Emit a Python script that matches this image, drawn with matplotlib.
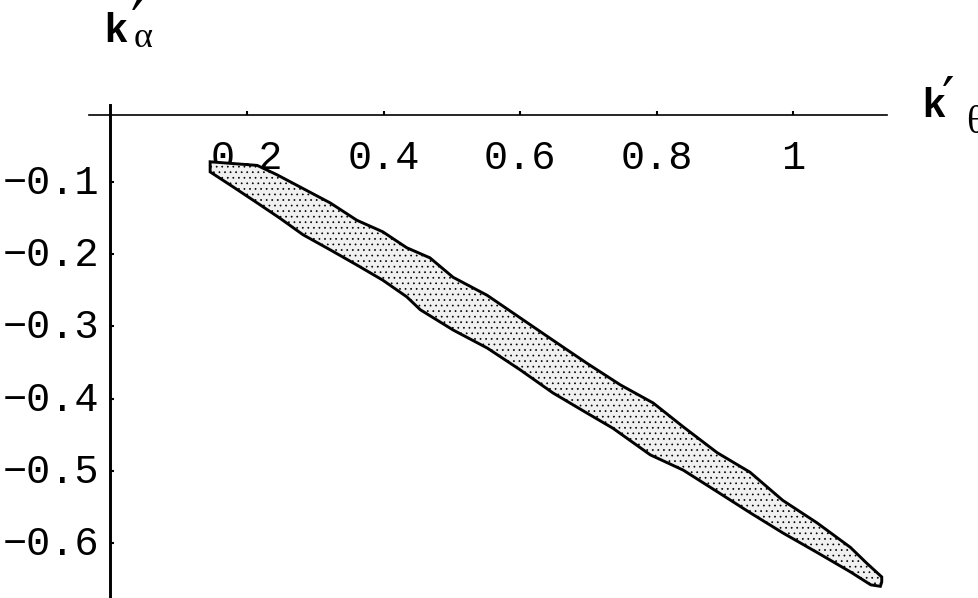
import numpy as np
import matplotlib.pyplot as plt
import matplotlib.transforms as mtransforms
from matplotlib.patches import Polygon

# boundary of the shaded region
upper_x = [0.146, 0.215, 0.244, 0.278, 0.322, 0.361, 0.399, 0.434, 0.468, 0.502, 0.552,
           0.600, 0.648, 0.698, 0.747, 0.795, 0.839, 0.889, 0.937, 0.985, 1.035, 1.084,
           1.108, 1.130, 1.130]
upper_y = [-0.072, -0.077, -0.090, -0.107, -0.129, -0.153, -0.169, -0.191, -0.205, -0.232,
           -0.257, -0.288, -0.319, -0.351, -0.381, -0.406, -0.439, -0.475, -0.502, -0.541,
           -0.572, -0.606, -0.628, -0.647, -0.654]
lower_x = [1.128, 1.114, 1.084, 1.035, 0.985, 0.937, 0.889, 0.839, 0.791, 0.736, 0.698,
           0.648, 0.600, 0.552, 0.502, 0.454, 0.434, 0.399, 0.361, 0.322, 0.282, 0.248,
           0.215, 0.180, 0.146]
lower_y = [-0.660, -0.658, -0.640, -0.613, -0.586, -0.558, -0.529, -0.499, -0.478, -0.441,
           -0.420, -0.392, -0.360, -0.330, -0.305, -0.277, -0.259, -0.236, -0.215, -0.194,
           -0.173, -0.150, -0.129, -0.107, -0.086]

xticks = [0.2, 0.4, 0.6, 0.8, 1.0]
xticklabels = ['0.2', '0.4', '0.6', '0.8', '1']
yticks = [-0.1, -0.2, -0.3, -0.4, -0.5, -0.6]
yticklabels = ['\u22120.1', '\u22120.2', '\u22120.3', '\u22120.4', '\u22120.5', '\u22120.6']

plt.rcParams['hatch.color'] = '#333333'
plt.rcParams['hatch.linewidth'] = 0.5

fig = plt.figure(figsize=(9.79, 5.98), dpi=100)
ax = fig.add_axes([0, 0, 1, 1])
ax.set_xlim(-0.1619, 1.2725)
ax.set_ylim(-0.6762, 0.1521)
ax.patch.set_visible(False)

pts = np.column_stack([upper_x + lower_x, upper_y + lower_y])
poly = Polygon(pts, closed=True, facecolor='#f0f0f0', edgecolor='black',
               linewidth=2.1, hatch='...', zorder=3)
ax.add_patch(poly)

for s in ['top', 'right']:
    ax.spines[s].set_visible(False)
ax.spines['left'].set_position(('data', 0))
ax.spines['bottom'].set_position(('data', -0.0072))
ax.spines['left'].set_bounds(-0.6762, 0.0066)
ax.spines['bottom'].set_bounds(-0.0315, 1.138)
ax.spines['left'].set_linewidth(2.1)
ax.spines['bottom'].set_linewidth(1.2)

ax.set_xticks(xticks)
ax.set_xticklabels(xticklabels)
ax.set_yticks(yticks)
ax.set_yticklabels(yticklabels)
ax.tick_params(axis='both', direction='in', length=3, width=1.5, labelsize=29)
ax.tick_params(axis='x', pad=17)
ax.tick_params(axis='y', pad=8)
shift = mtransforms.ScaledTranslation(0, 3 / 100, fig.dpi_scale_trans)
for lab in ax.get_xticklabels() + ax.get_yticklabels():
    lab.set_family('Liberation Mono')
for lab in ax.get_yticklabels():
    lab.set_transform(lab.get_transform() + shift)

W, H = 979., 598.
def px(x, y):
    return x / W, 1 - y / H

# axis labels
fig.text(*px(104, 42), 'k', fontsize=29, fontweight='bold', family='Liberation Sans',
         ha='left', va='baseline')
fig.text(*px(131, 40), '\u2032', fontsize=40, family='DejaVu Sans', ha='left', va='baseline')
fig.text(*px(134, 47), '\u03b1', fontsize=26, family='Liberation Serif', ha='left', va='baseline')

fig.text(*px(922, 117), 'k', fontsize=29, fontweight='bold', family='Liberation Sans',
         ha='left', va='baseline')
fig.text(*px(942, 116), '\u2032', fontsize=40, family='DejaVu Sans', ha='left', va='baseline')
fig.text(*px(966, 133), '\u03b8', fontsize=28, family='Liberation Serif', ha='left', va='baseline')

plt.savefig('out.png', dpi=100)
